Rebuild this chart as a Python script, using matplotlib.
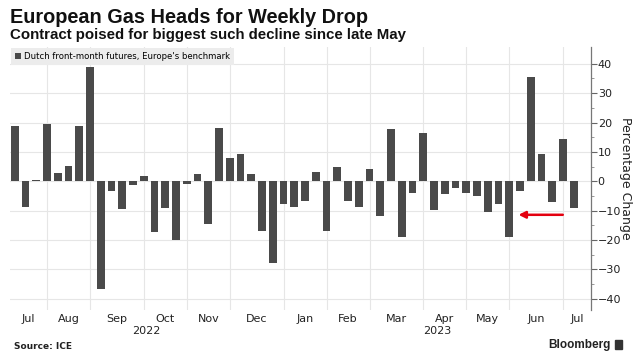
import numpy as np
import pandas as pd
import matplotlib
matplotlib.use("Agg")
import matplotlib.pyplot as plt
from matplotlib.patches import Rectangle

# weekly % change, Dutch front-month gas futures (Fridays)
week_start = "2022-07-15"
week_end = "2023-07-14"
weekly_change = [18.7, -8.9, 0.3, 19.5, 2.8, 5.1, 18.8, 38.8, -36.6, -3.4,
                 -9.3, -1.1, 1.8, -17.1, -9.0, -20.0, -0.9, 2.4, -14.5, 18.0,
                 7.8, 9.2, 2.6, -16.9, -27.9, -7.8, -8.6, -6.6, 3.3, -16.9,
                 4.7, -6.6, -8.9, 4.1, -11.7, 17.7, -18.9, -4.0, 16.6, -9.8,
                 -4.4, -2.2, -4.0, -5.0, -10.3, -7.7, -18.8, -3.3, 35.5, 9.3,
                 -6.9, 14.3, -9.1]
y_ticks = [-40, -30, -20, -10, 0, 10, 20, 30, 40]

title = "European Gas Heads for Weekly Drop"
subtitle = "Contract poised for biggest such decline since late May"
series_name = "Dutch front-month futures, Europe's benchmark"

bar_color = "#4a4a4a"
grid_color = "#e6e6e6"

dates = pd.date_range(week_start, week_end, freq="W-FRI")
x = np.arange(len(dates))

fig = plt.figure(figsize=(6.41, 3.59), dpi=100)
ax = fig.add_axes([0.0156, 0.1365, 0.906, 0.7325])

ax.bar(x, weekly_change, width=0.72, color=bar_color, zorder=3,
       label=series_name)

x_left, x_right = -0.45, len(x) - 1 + 1.57
ax.set_xlim(x_left, x_right)
ax.set_ylim(-43.8, 45.7)

# month gridlines sit on the first bar of every month
month_id = dates.year * 12 + dates.month
starts = [i for i in range(1, len(x)) if month_id[i] != month_id[i - 1]]
for s in starts:
    ax.axvline(s, color=grid_color, lw=0.8, zorder=1)

edges = [x_left] + starts + [x_right]
mids = [(edges[i] + edges[i + 1]) / 2 for i in range(len(edges) - 1)]
first_idx = [0] + starts
ax.set_xticks(mids)
ax.set_xticklabels([dates[i].strftime("%b") for i in first_idx],
                   fontsize=8, color="#222222")
ax.tick_params(axis="x", length=0, pad=3)

# year labels under the months
year_break = [s for s in starts if dates[s].month == 1][0]
trans = ax.get_xaxis_transform()
ax.text((x_left + year_break) / 2, -0.078, "2022", transform=trans,
        ha="center", va="center", fontsize=8, color="#222222")
ax.text((year_break + x_right) / 2, -0.078, "2023", transform=trans,
        ha="center", va="center", fontsize=8, color="#222222")

ax.yaxis.tick_right()
ax.yaxis.set_label_position("right")
ax.set_yticks(y_ticks)
ax.set_yticks(np.arange(-40, 41, 5), minor=True)
ax.tick_params(axis="y", which="major", length=4, width=0.8,
               color="#666666", labelsize=8, labelcolor="#222222", pad=1)
ax.tick_params(axis="y", which="minor", length=2, width=0.6, color="#888888")
ax.set_ylabel("Percentage Change", rotation=270, fontsize=9,
              color="#222222", labelpad=8)
ax.grid(axis="y", color=grid_color, lw=0.8, zorder=1)

for side in ["left", "top", "bottom"]:
    ax.spines[side].set_visible(False)
ax.spines["right"].set_color("#777777")
ax.spines["right"].set_linewidth(0.9)

leg = ax.legend(loc="upper left", bbox_to_anchor=(0.0, 1.0),
                borderaxespad=0.1, frameon=True, fancybox=False,
                fontsize=6.1, handlelength=0.7, handleheight=0.7,
                handletextpad=0.3, borderpad=0.5)
leg.get_frame().set_facecolor("#ececec")
leg.get_frame().set_edgecolor("none")
leg.get_frame().set_alpha(1)
leg.set_zorder(5)

# red arrow pointing at the late-May drop
arrow_tail = (50.97, -11.4)
arrow_head = (46.85, -11.4)
ax.annotate("", xy=arrow_head, xytext=arrow_tail,
            arrowprops=dict(arrowstyle="-|>", color="#e3000f", lw=1.8,
                            mutation_scale=10, shrinkA=0, shrinkB=0),
            zorder=6)

fig.text(0.0156, 0.952, title, fontsize=14.3, fontweight="bold",
         family="Liberation Sans", va="center", color="#111111")
fig.text(0.0156, 0.903, subtitle, fontsize=10.8, fontweight="bold",
         family="Liberation Sans", va="center", color="#111111")
fig.text(0.022, 0.036, "Source: ICE", fontsize=6.5, fontweight="bold",
         va="center", color="#222222")
fig.text(0.953, 0.04, "Bloomberg", fontsize=8.5, fontweight="bold",
         ha="right", va="center", color="#222222", family="Liberation Sans")
fig.patches.append(Rectangle((0.959, 0.028), 0.011, 0.026,
                             transform=fig.transFigure, color="#333333"))

fig.savefig("out.png", dpi=100)
